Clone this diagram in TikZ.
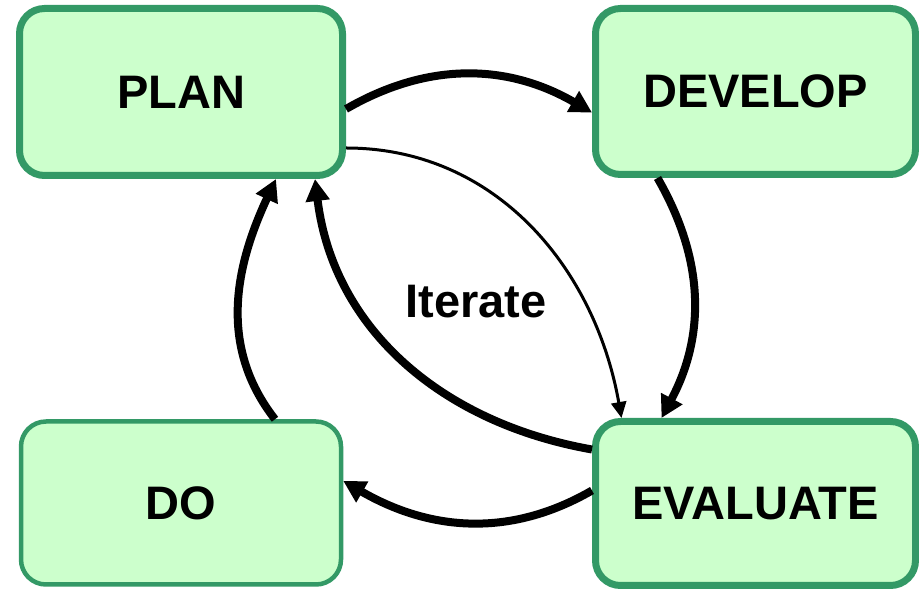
\documentclass[tikz,border=0pt]{standalone}
\usepackage{fontspec}
\setmainfont{Liberation Sans}
\usetikzlibrary{arrows.meta}
\definecolor{boxfill}{HTML}{CCFFCC}
\definecolor{boxline}{HTML}{339966}

\begin{document}
\begin{tikzpicture}[x=1pt,y=1pt]

\tikzset{stage/.style = {shape=rectangle, rounded corners=25pt, draw=boxline, fill=boxfill, line width=7pt, minimum width=320pt, minimum height=165pt, font=\fontsize{47}{50}\selectfont\bfseries}}
\tikzset{edge/.style = {line width=8pt, -{Triangle[length=22pt,width=23pt]}}}
\tikzset{thinedge/.style = {line width=3pt, -{Triangle[length=16pt,width=15pt]}}}
\useasboundingbox (0,0) rectangle (919,589);
% vertices
\node[stage, minimum width=323pt, minimum height=167pt] (plan) at (181,497) {PLAN};
\node[stage, minimum height=166pt] (develop) at (755.5,497.5) {DEVELOP};
\node[stage, line width=4.5pt, minimum height=163pt] (do) at (181,86) {DO};
\node[stage, minimum height=164pt] (evaluate) at (755.5,85.5) {EVALUATE};
\node[font=\fontsize{47}{50}\selectfont\bfseries] (iterate) at (476,287) {Iterate};
%edges
\draw[edge] ([yshift=-17pt]plan.east) to[out=30,in=150] ([yshift=-21pt]develop.west);
\draw[thinedge] ([yshift=-56pt]plan.east) to[out=0,in=100] ([xshift=-134pt]evaluate.north);
\draw[edge] ([xshift=-98pt]develop.south) to[out=-60,in=62] ([xshift=-94pt]evaluate.north);
\draw[edge] ([yshift=54pt]evaluate.west) to[out=170,in=-83] ([xshift=134pt]plan.south);
\draw[edge] ([yshift=13pt]evaluate.west) to[out=210,in=-30] ([yshift=22pt]do.east);
\draw[edge] ([xshift=94pt]do.north) to[out=128,in=-115] ([xshift=95pt]plan.south);
\end{tikzpicture}
\end{document}
